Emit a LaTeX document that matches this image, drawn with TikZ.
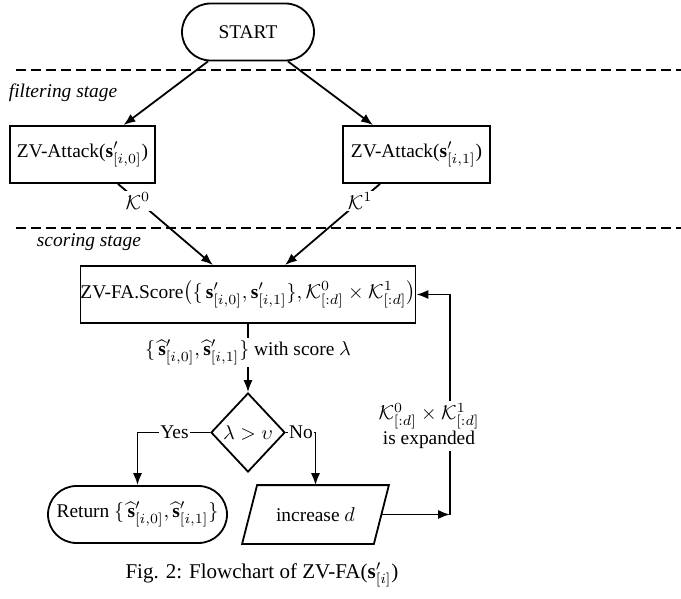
\documentclass[tikz,border=0pt]{standalone}
\usepackage{fontspec}
\setmainfont{Liberation Serif}
\usetikzlibrary{shapes.geometric,shapes.misc,arrows.meta,calc}
\begin{document}
\begin{tikzpicture}[x=0.5pt,y=-0.5pt, line width=0.9pt, font=\fontsize{9.7}{11.5}\selectfont,
  box/.style={draw, rectangle, minimum height=28.5pt, inner sep=0pt},
  term/.style={draw, rounded rectangle, minimum height=28.5pt, inner sep=0pt},
  arr/.style={-{Latex[length=6pt,width=4.6pt]}},
  sep/.style={dash pattern=on 5pt off 2.5pt},
  lab/.style={fill=white, inner sep=1pt},
  stage/.style={anchor=west, inner sep=0pt, font=\fontsize{9.7}{11.5}\selectfont\itshape}]
\useasboundingbox (0,0) rectangle (681,599);
% separators
\coordinate (d1a) at (16,70); \coordinate (d1b) at (681,70);
\coordinate (d2a) at (16,228); \coordinate (d2b) at (681,228);
\draw[sep] (d1a) -- (d1b);
\draw[sep] (d2a) -- (d2b);
\node[stage] (fst) at (8,93) {filtering stage};
\node[stage] (sst) at (36,242) {scoring stage};
% nodes
\node[term, minimum width=66pt] (start) at (248,32) {START};
\node[box, minimum width=72.5pt] (left) at (82.5,154.5) {ZV-Attack($\mathbf{s}'_{[i,0]}$)};
\node[box, minimum width=73.5pt] (right) at (416.5,154.5) {ZV-Attack($\mathbf{s}'_{[i,1]}$)};
\node[box, minimum width=167pt] (score) at (248,294.5) {ZV-FA.Score$\big(\{\,\mathbf{s}'_{[i,0]},\mathbf{s}'_{[i,1]}\},\mathcal{K}^0_{[:d]}\times\mathcal{K}^1_{[:d]}\big)$};
\node[draw, diamond, minimum width=37pt, minimum height=39.5pt, inner sep=0pt] (dia) at (248,432.5) {$\lambda>\upsilon$};
\node[term, minimum width=89.5pt] (ret) at (137.5,514.5) {Return $\{\,\widehat{\mathbf{s}}'_{[i,0]},\widehat{\mathbf{s}}'_{[i,1]}\}$};
\node[rectangle, minimum width=65pt, minimum height=28.5pt, inner sep=0pt] (inc) at (315.5,514.5) {increase $d$};
\draw ($(inc.north west)+(7.5,0)$) -- ($(inc.north east)+(7.5,0)$) -- ($(inc.south east)+(-7.5,0)$) -- ($(inc.south west)+(-7.5,0)$) -- cycle;
\node[inner sep=0pt, font=\fontsize{10.5}{12.5}\selectfont] (cap) at (262,575) {Fig. 2: Flowchart of ZV-FA($\mathbf{s}'_{[i]}$)};
% connectors
\draw[arr] ($(start.south)+(-40,0)$) -- ($(left.north)+(41,0)$);
\draw[arr] ($(start.south)+(40,0)$) -- ($(right.north)+(-43.5,0)$);
\draw[arr] ($(left.south)+(35.5,0)$) -- node[lab, pos=0.21] (k0) {$\mathcal{K}^0$} ($(score.north)+(-35,0)$);
\draw[arr] ($(right.south)+(-36.5,0)$) -- node[lab, pos=0.21] (k1) {$\mathcal{K}^1$} ($(score.north)+(37,0)$);
\draw[arr] (score.south) -- node[lab, pos=0.42] (out) {$\{\,\widehat{\mathbf{s}}'_{[i,0]},\widehat{\mathbf{s}}'_{[i,1]}\}$ with score $\lambda$} (dia.north);
\draw[arr] (dia.west) -| (ret.north);
\node[fill=white, inner sep=0.5pt] (yes) at (174.5,432.5) {Yes};
\draw[arr] (dia.east) -| (inc.north);
\node[fill=white, inner sep=0.5pt] (no) at (301,432.5) {No};
\coordinate (fb) at (450,514.5);
\draw[arr] (inc.east) -- (fb);
\draw[arr] (fb) |- (score.east);
\node[fill=white, inner sep=1pt, align=center] (exp) at (429,426) {$\mathcal{K}^0_{[:d]}\times\mathcal{K}^1_{[:d]}$\\is expanded};
\end{tikzpicture}
\end{document}
